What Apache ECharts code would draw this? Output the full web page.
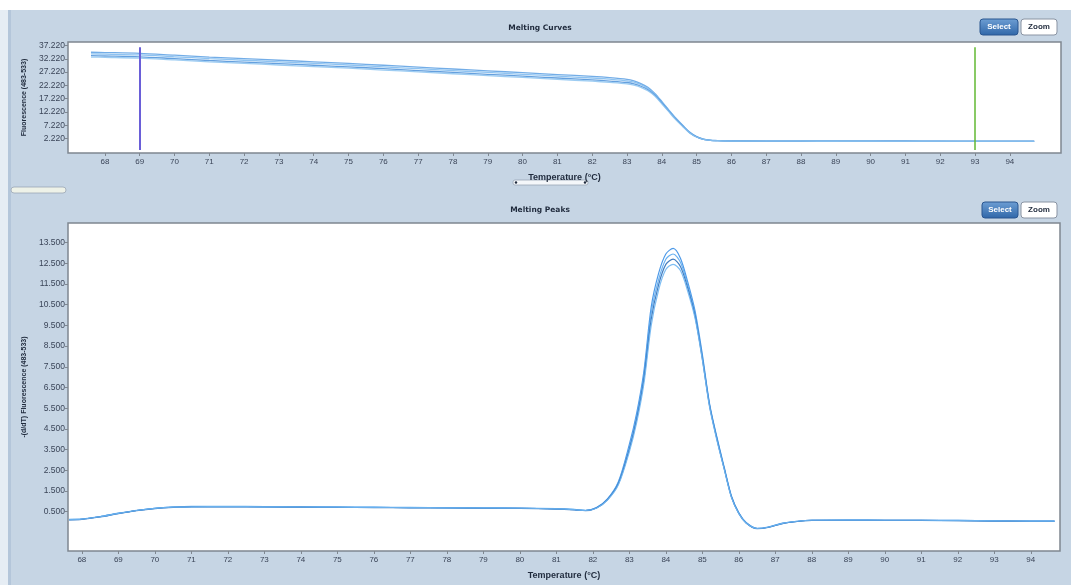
<!DOCTYPE html>
<html><head><meta charset="utf-8">
<script src="https://cdn.jsdelivr.net/npm/echarts@6/dist/echarts.min.js"></script>
<style>html,body{margin:0;padding:0;background:#c6d5e4}#c{width:1071px;height:585px}</style>
</head><body><div id="c"></div>
<script>
// ---- tick labels ----
const xTicks = [68,69,70,71,72,73,74,75,76,77,78,79,80,81,82,83,84,85,86,87,88,89,90,91,92,93,94];
const yTicksCurves = [2.22,7.22,12.22,17.22,22.22,27.22,32.22,37.22];
const yTicksPeaks = [0.5,1.5,2.5,3.5,4.5,5.5,6.5,7.5,8.5,9.5,10.5,11.5,12.5,13.5];

// ---- melting curves (fluorescence vs temperature) ----
const curveTemps = [67.6,68,69,70,71,72,73,74,75,76,77,78,79,80,81,82,82.5,83,83.2,83.4,83.6,83.8,84,84.2,84.4,84.6,84.8,85,85.2,85.4,85.6,85.8,86,87,88,89,90,91,92,93,94,94.7];
const curveA = [34.70,34.60,34.30,33.60,32.90,32.30,31.70,31.10,30.50,29.80,29.10,28.40,27.70,27.00,26.30,25.60,25.15,24.50,23.90,22.90,21.50,19.20,16.20,13.00,9.90,7.20,4.60,2.90,1.95,1.55,1.42,1.32,1.27,1.23,1.21,1.20,1.19,1.18,1.17,1.16,1.15,1.15];
const curveB = [34.10,34.00,33.70,33.00,32.30,31.70,31.10,30.50,29.90,29.20,28.50,27.80,27.10,26.40,25.70,25.00,24.55,23.95,23.40,22.50,21.10,18.90,15.90,12.80,9.70,7.05,4.50,2.85,1.90,1.52,1.40,1.30,1.25,1.21,1.19,1.18,1.17,1.16,1.15,1.14,1.13,1.13];
const curveC = [33.40,33.30,33.00,32.30,31.60,31.00,30.40,29.80,29.20,28.50,27.80,27.10,26.40,25.70,25.00,24.30,23.85,23.30,22.80,21.90,20.60,18.50,15.60,12.50,9.50,6.90,4.40,2.80,1.88,1.50,1.38,1.28,1.24,1.20,1.18,1.17,1.16,1.15,1.14,1.13,1.12,1.12];
const curveD = [32.90,32.80,32.50,31.80,31.10,30.50,29.90,29.30,28.70,28.00,27.30,26.60,25.90,25.20,24.50,23.80,23.35,22.80,22.30,21.50,20.20,18.20,15.30,12.30,9.30,6.75,4.30,2.75,1.85,1.48,1.37,1.27,1.23,1.19,1.17,1.16,1.15,1.14,1.13,1.12,1.11,1.11];

// ---- melting peaks (-dF/dT vs temperature) ----
const peakTemps = [67.65,68,68.5,69,69.5,70,70.5,71,72,73,74,75,76,77,78,79,80,81,81.5,81.8,82.1,82.4,82.7,83,83.2,83.4,83.6,83.8,84,84.2,84.4,84.6,84.8,85,85.2,85.4,85.6,85.8,86,86.2,86.5,86.8,87.2,87.6,88,89,90,91,92,93,94,94.65];
const peakA = [0.12,0.14,0.26,0.42,0.56,0.66,0.72,0.75,0.75,0.74,0.73,0.72,0.71,0.70,0.69,0.68,0.67,0.64,0.60,0.56,0.70,1.12,1.95,3.75,5.25,7.30,10.40,12.00,12.95,13.22,12.75,11.60,10.20,8.10,5.70,4.10,2.65,1.25,0.45,-0.02,-0.30,-0.24,-0.05,0.04,0.09,0.10,0.09,0.09,0.08,0.06,0.05,0.05];
const peakB = [0.13,0.15,0.27,0.43,0.57,0.67,0.73,0.76,0.76,0.75,0.74,0.73,0.72,0.71,0.70,0.69,0.68,0.65,0.61,0.57,0.69,1.10,1.90,3.60,5.10,7.10,10.10,11.70,12.70,12.95,12.55,11.45,10.05,8.00,5.65,4.05,2.60,1.22,0.43,-0.03,-0.31,-0.25,-0.06,0.03,0.08,0.10,0.09,0.08,0.07,0.06,0.05,0.05];
const peakC = [0.11,0.13,0.25,0.41,0.55,0.65,0.71,0.74,0.74,0.73,0.72,0.71,0.70,0.69,0.68,0.67,0.66,0.63,0.59,0.55,0.68,1.08,1.85,3.50,4.95,6.90,9.80,11.45,12.45,12.70,12.35,11.30,9.95,7.90,5.60,4.00,2.58,1.20,0.42,-0.04,-0.32,-0.26,-0.07,0.03,0.08,0.09,0.08,0.08,0.07,0.05,0.04,0.04];
const peakD = [0.12,0.14,0.26,0.42,0.56,0.66,0.72,0.74,0.75,0.74,0.73,0.72,0.71,0.70,0.69,0.68,0.67,0.64,0.60,0.56,0.67,1.06,1.80,3.40,4.80,6.70,9.50,11.20,12.20,12.45,12.15,11.15,9.85,7.85,5.55,3.95,2.55,1.18,0.41,-0.04,-0.31,-0.25,-0.06,0.04,0.09,0.10,0.09,0.09,0.08,0.06,0.05,0.05];

// ---- vertical markers on the melting curves ----
const markerTemps = [69, 93];
const markerSpan = [36.6, -2.15];

function pairs(xs, ys){ return xs.map((x,i)=>[x, ys[i]]); }

const FONT = 'Liberation Sans, Arial, sans-serif';
const labelColor = '#3b4558';

function xAxisCfg(gi, min, max){
  return {
    type:'value', gridIndex:gi, min:min, max:max, position:'bottom',
    axisLine:{show:false, onZero:false},
    axisTick:{show:true, customValues:xTicks, length:3, lineStyle:{color:'#7f8790'}},
    axisLabel:{customValues:xTicks, fontSize:8, color:labelColor, fontFamily:FONT, margin:5},
    splitLine:{show:false},
    name:'Temperature (°C)', nameLocation:'middle', nameGap:20,
    nameTextStyle:{fontSize:9, fontWeight:'bold', color:'#1f2a3c', fontFamily:FONT}
  };
}
function yAxisCfg(gi, min, max, ticks, name, gap){
  return {
    type:'value', gridIndex:gi, min:min, max:max, position:'left',
    axisLine:{show:false, onZero:false},
    axisTick:{show:true, customValues:ticks, length:3, lineStyle:{color:'#7f8790'}},
    axisLabel:{customValues:ticks, fontSize:8.5, color:labelColor, fontFamily:FONT, margin:3,
      formatter:v=>v.toFixed(3)},
    splitLine:{show:false},
    name:name, nameLocation:'middle', nameGap:gap, nameRotate:90,
    nameTextStyle:{fontSize:7, fontWeight:'bold', color:'#1f2a3c', fontFamily:FONT}
  };
}

const topColors = ['#5b9fe3','#7ab8ee','#4a8fd8','#8cc3f0'];
const botColors = ['#3a8ee6','#5aa8f0','#2f6fb8','#6fb6f2'];

const series = [];
[curveA,curveB,curveC,curveD].forEach((c,i)=>{
  series.push({type:'line', xAxisIndex:0, yAxisIndex:0, data:pairs(curveTemps,c), showSymbol:false, smooth:0.3,
    lineStyle:{width:1.3, color:topColors[i], opacity:0.85}, silent:true});
});
series[0].markLine = {
  symbol:'none', silent:true, label:{show:false},
  data:[
    [{coord:[markerTemps[0], markerSpan[0]], lineStyle:{color:'#6a5fd8', width:2, type:'solid'}},{coord:[markerTemps[0], markerSpan[1]]}],
    [{coord:[markerTemps[1], markerSpan[0]], lineStyle:{color:'#62b832', width:1.5, type:'solid'}},{coord:[markerTemps[1], markerSpan[1]]}]
  ]
};
[peakA,peakB,peakC,peakD].forEach((c,i)=>{
  series.push({type:'line', xAxisIndex:1, yAxisIndex:1, data:pairs(peakTemps,c), showSymbol:false, smooth:0.3,
    lineStyle:{width:1.2, color:botColors[i], opacity:0.9}, silent:true});
});

function button(x, y, w, h, text, active){
  return {type:'group', children:[
    {type:'rect', shape:{x:x, y:y, width:w, height:h, r:3},
      style:active ? {fill:{type:'linear',x:0,y:0,x2:0,y2:1,colorStops:[{offset:0,color:'#6e9fd4'},{offset:1,color:'#2f66a8'}]}, stroke:'#2a5690', lineWidth:1}
                   : {fill:'#ffffff', stroke:'#8a94a3', lineWidth:1}},
    {type:'text', x:x+w/2, y:y+h/2, style:{text:text, fill: active?'#ffffff':'#1f2a3c', font:'bold 8px '+FONT, align:'center', verticalAlign:'middle'}}
  ]};
}

const chart = echarts.init(document.getElementById('c'), null, {renderer:'canvas'});
chart.setOption({
  backgroundColor:'#c6d5e4',
  animation:false,
  grid:[
    {left:68, top:42, width:993, height:111, show:true, backgroundColor:'#ffffff', borderColor:'#7f8790', borderWidth:1.5},
    {left:68, top:223, width:992, height:334, show:true, backgroundColor:'#ffffff', borderColor:'#7f8790', borderWidth:1.5}
  ],
  xAxis:[ xAxisCfg(0, 66.94, 95.47), xAxisCfg(1, 67.62, 94.8) ],
  yAxis:[
    yAxisCfg(0, -3.27, 38.57, yTicksCurves, 'Fluorescence (483-533)', 40),
    yAxisCfg(1, -1.396, 14.448, yTicksPeaks, '-(d/dT) Fluorescence (483-533)', 40)
  ],
  series:series,
  graphic:[
    {type:'rect', z:-10, shape:{x:0, y:0, width:1071, height:10}, style:{fill:'#ffffff'}},
    {type:'rect', z:-10, shape:{x:0, y:10, width:8, height:575}, style:{fill:'#e6edf4'}},
    {type:'rect', z:-10, shape:{x:8, y:10, width:3, height:575}, style:{fill:'#b4c6da'}},
    {type:'text', x:540, y:28, style:{text:'Melting Curves', font:'bold 7.5px DejaVu Sans', fill:'#1f2a3c', align:'center', verticalAlign:'middle'}},
    {type:'text', x:540, y:210, style:{text:'Melting Peaks', font:'bold 7.5px DejaVu Sans', fill:'#1f2a3c', align:'center', verticalAlign:'middle'}},
    button(980, 19, 38, 16, 'Select', true),
    button(1021, 19, 36, 16, 'Zoom', false),
    button(982, 202, 36, 16, 'Select', true),
    button(1021, 202, 36, 16, 'Zoom', false),
    {type:'rect', shape:{x:513, y:180, width:75, height:5, r:2}, style:{fill:'#f4f7fa', stroke:'#9aa6b5', lineWidth:0.8}},
    {type:'circle', shape:{cx:516, cy:182.5, r:1.2}, style:{fill:'#1f2a3c'}},
    {type:'circle', shape:{cx:585, cy:182.5, r:1.2}, style:{fill:'#1f2a3c'}},
    {type:'rect', shape:{x:11, y:187, width:55, height:6, r:3}, style:{fill:'#eef2e8', stroke:'#9aa6b5', lineWidth:0.8}}
  ]
});
</script>
</body></html>
